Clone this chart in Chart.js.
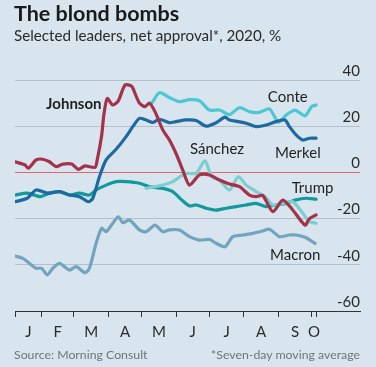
<!DOCTYPE html>
<html>
<head>
<meta charset="utf-8">
<script src="https://cdn.jsdelivr.net/npm/chart.js@4.4.1/dist/chart.umd.min.js"></script>
<style>
  html, body { margin: 0; padding: 0; background: #d8e5ee; }
  #wrap { position: relative; width: 376px; height: 367px; overflow: hidden; background: #d8e5ee; font-family: Lato, "Noto Sans", sans-serif; }
  canvas { position: absolute; left: 0; top: 0; }
  .t { position: absolute; white-space: nowrap; }
  #title { left: 14px; top: 0px; font-size: 21.5px; line-height: 26px; font-weight: 700; color: #1a1a1a; }
  #sub { left: 14px; top: 25px; font-size: 15.2px; line-height: 20px; color: #2a2a2a; }
  #src { left: 14px; top: 346px; font-size: 12.3px; line-height: 18px; color: #6f7578; }
  #note { right: 16px; top: 346px; font-size: 12.3px; line-height: 18px; color: #6f7578; }
</style>
</head>
<body>
<div id="wrap">
  <canvas id="c" width="376" height="367"></canvas>
  <div class="t" id="title">The blond bombs</div>
  <div class="t" id="sub">Selected leaders, net approval*, 2020, %</div>
  <div class="t" id="src">Source: Morning Consult</div>
  <div class="t" id="note">*Seven-day moving average</div>
</div>
<script>
// ---- Data (x = day of 2020, 0 = Jan 1; y = net approval, %) ----
const johnsonDays = [7,16,19,26,32,38,44,50,58,64,70,79,81,85,87,90,95,100,106,112,115,119,124,128,133,140,146,153,158,164,173,182,191,200,209,218,224,230,239,248,257,268,272,278];
const johnsonVals = [4.6,3.2,1.8,5.4,5.7,4.6,2.5,3.6,3.6,1.3,2.8,2.2,5.4,16,25,32,29.2,31,37.8,37.3,34.2,30,28.5,30,26.3,18.4,14,7,1,-5.5,-1.1,-1.1,-3.3,-5,-6.2,-9.8,-10.5,-10,-17,-12,-16.3,-22.8,-20,-18.4];

const merkelDays = [7,18,26,36,47,56,65,73,77,83,89,98,107,113,119,125,131,137,146,152,161,170,179,188,196,200,208,215,224,233,242,250,254,260,266,272,278];
const merkelVals = [-12.7,-11.2,-7.6,-9,-8.3,-9.8,-10.5,-12.7,-11.2,-1.9,5.4,10,15.5,19.8,23.4,22.7,21.6,23,21.5,22,22.7,22.5,20,21.5,23.9,22.7,22,21.3,19.8,20.5,22,22.7,19.8,16.2,14,14.8,14.8];

const conteDays = [130,137,146,155,164,173,182,191,200,209,218,227,236,244,251,259,268,274,278];
const conteVals = [29.9,34.5,32.4,30.6,31.5,31,27,27,25,28,26.3,26,27.5,21.7,24.8,27,24.5,28.5,29.2];

const sanchezDays = [125,133,140,149,155,161,170,178,184,191,200,208,215,224,232,239,248,257,266,272,278];
const sanchezVals = [-6.9,-6.2,-5.5,-4,-2,-0.4,-0.4,5,-1.9,-3.3,-7.6,-1.9,-5.5,-8.3,-10.5,-14.1,-13.4,-12.7,-17.7,-21.3,-22];

const trumpDays = [7,18,30,38,47,56,65,74,80,89,98,107,119,128,140,149,157,164,170,179,188,197,206,215,224,233,242,251,260,269,278];
const trumpVals = [-9.8,-9,-10.5,-9,-8.3,-9.8,-9,-9.8,-7.6,-5.5,-4,-4,-4.7,-6.2,-6.9,-8.3,-11.9,-14.5,-14.1,-15.5,-16.3,-15.5,-14.8,-14.1,-13.4,-14.8,-14.1,-13.4,-11.9,-11.2,-11.6];

const macronDays = [7,14,20,26,31,36,41,47,56,62,70,74,80,85,89,95,100,104,110,119,125,133,140,146,155,164,173,182,188,196,203,212,221,229,236,245,254,260,268,277];
const macronVals = [-36.2,-37.2,-39.4,-41.5,-41.5,-44.4,-41.5,-39.4,-42.3,-40.8,-43.4,-41.5,-30.7,-24.2,-25.7,-22,-19.2,-21.8,-20.6,-24.9,-25.7,-22.8,-25.7,-24.9,-24.9,-27.8,-29.3,-29,-30.7,-32.2,-27.8,-27.1,-26.4,-25.5,-24.6,-27.8,-27.1,-27.1,-28.1,-30.7];

// month boundaries (day of year) and the data end; month labels
const monthStarts = [7,31,60,91,121,152,182,213,244,274,278];
const monthLabels = ['J','F','M','A','M','J','J','A','S','O'];
const yTicks = [-60,-40,-20,0,20,40];

// ---- presentation ----
const FONT = 'Lato, "Noto Sans", sans-serif';
const pts = (d, v) => d.map((x, i) => ({x, y: v[i]}));
const mids = monthLabels.map((_, i) => (monthStarts[i] + monthStarts[i + 1]) / 2);
const boundarySet = new Set(monthStarts);

const seriesLabels = [
  {text: 'Johnson', day: 35, val: 29.6, bold: true},
  {text: 'Conte', day: 234.5, val: 32.6},
  {text: 'Merkel', day: 241, val: 8.4},
  {text: 'Sánchez', day: 164.5, val: 10.1},
  {text: 'Trump', day: 256, val: -6.8},
  {text: 'Macron', day: 236.5, val: -35.8}
];

const labelPlugin = {
  id: 'seriesLabels',
  afterDatasetsDraw(chart) {
    const {ctx, scales: {x, y}} = chart;
    ctx.save();
    ctx.textBaseline = 'middle';
    ctx.textAlign = 'left';
    ctx.fillStyle = '#1f1f1f';
    seriesLabels.forEach(l => {
      ctx.font = (l.bold ? '700 ' : '400 ') + '15px ' + FONT;
      ctx.fillText(l.text, x.getPixelForValue(l.day), y.getPixelForValue(l.val));
    });
    ctx.restore();
  }
};

const ds = (label, d, v, color) => ({
  label, data: pts(d, v), borderColor: color, borderWidth: 3.2,
  pointRadius: 0, tension: 0.25, fill: false, borderCapStyle: 'round', borderJoinStyle: 'round'
});

new Chart(document.getElementById('c'), {
  type: 'line',
  data: {
    datasets: [
      ds('Johnson', johnsonDays, johnsonVals, '#a3324a'),
      ds('Merkel', merkelDays, merkelVals, '#1c6aa0'),
      ds('Conte', conteDays, conteVals, '#4cc8d2'),
      ds('Sánchez', sanchezDays, sanchezVals, '#7dcfcf'),
      ds('Trump', trumpDays, trumpVals, '#13999a'),
      ds('Macron', macronDays, macronVals, '#72a5bd')
    ]
  },
  options: {
    responsive: false,
    animation: false,
    devicePixelRatio: 1,
    layout: {padding: {left: 15, right: 16, top: 80, bottom: 0}},
    plugins: {legend: {display: false}, tooltip: {enabled: false}, title: {display: false}},
    scales: {
      x: {
        type: 'linear', min: 7, max: 317.5,
        afterBuildTicks: s => { s.ticks = monthStarts.concat(mids).sort((a, b) => a - b).map(v => ({value: v})); },
        afterFit: s => { s.height = 56; },
        ticks: {
          autoSkip: false, maxRotation: 0, padding: 6, color: '#2a2a2a',
          font: {family: FONT, size: 15},
          callback: v => { const i = mids.indexOf(v); return i >= 0 ? monthLabels[i] : ''; }
        },
        grid: {
          drawOnChartArea: false, drawTicks: true, tickLength: 6, lineWidth: 1,
          color: c => (c.tick && boundarySet.has(c.tick.value)) ? '#333' : 'rgba(0,0,0,0)'
        },
        border: {display: true, color: '#333', width: 1}
      },
      y: {
        type: 'linear', position: 'right', min: -60, max: 40,
        afterBuildTicks: s => { s.ticks = yTicks.map(v => ({value: v})); },
        afterFit: s => { s.width = 0; },
        ticks: {
          mirror: true, padding: 0, labelOffset: -9, color: '#2a2a2a',
          font: {family: FONT, size: 15},
          callback: v => String(v)
        },
        grid: {
          drawTicks: false, lineWidth: 1,
          color: c => c.tick.value === 0 ? '#e0676c' : (c.tick.value === -60 ? 'rgba(0,0,0,0)' : '#b2c1cb')
        },
        border: {display: false}
      }
    }
  },
  plugins: [labelPlugin]
});
</script>
</body>
</html>
